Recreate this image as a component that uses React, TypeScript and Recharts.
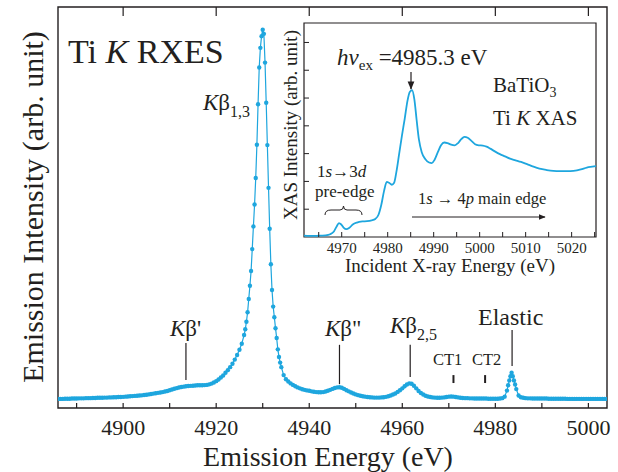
import React from 'react';
import { LineChart, Line, XAxis, YAxis, ReferenceArea, ReferenceLine } from 'recharts';

const BLUE = '#1ea6de';
const INK = '#231f20';
const FONT = '"Liberation Serif", "Times New Roman", serif';

// --- Ti K RXES emission spectrum (peak = 100) ---
// each block is sampled on its own energy grid (start, step)
const lowTail = [
  2.4, 2.4, 2.4, 2.45, 2.45, 2.45, 2.5, 2.5, 2.5, 2.55,
  2.55, 2.55, 2.6, 2.6, 2.6, 2.65, 2.65, 2.7, 2.7, 2.7,
  2.75, 2.75, 2.8, 2.8, 2.85, 2.85, 2.9, 2.9, 2.95, 3.0,
  3.05, 3.1, 3.15, 3.2, 3.25, 3.3, 3.35, 3.45, 3.5, 3.6,
  3.7, 3.8, 3.9, 4.0, 4.1, 4.2, 4.35, 4.5, 4.7, 4.9,
  5.1, 5.25, 5.4, 5.55, 5.65, 5.75, 5.8, 5.85, 5.9, 5.95,
  6.0, 6.0, 6.0, 6.05, 6.1, 6.25, 6.45, 6.75, 7.1, 7.55,
  8.05, 8.6, 9.3, 10.0, 10.8, 11.7, 12.8, 14.0, 15.4, 17.0,
];
const mainPeak = [
  19.3, 20.8, 22.8, 25.3, 28.8, 32.3, 36.2, 42.0, 48.0, 53.8,
  60.8, 69.6, 80.3, 90.0, 95.2, 98.3, 100.0, 98.9, 91.3, 80.7,
  69.5, 58.2, 47.4, 38.0, 31.2, 26.8, 24.0, 21.1, 18.5, 15.5,
  13.5, 12.0, 10.8,
];
const satellites = [
  8.7, 7.6, 7.0, 6.5, 6.1, 5.75, 5.45, 5.2, 4.95, 4.8,
  4.65, 4.55, 4.4, 4.3, 4.2, 4.15, 4.15, 4.2, 4.35, 4.55,
  4.8, 5.05, 5.3, 5.45, 5.5, 5.35, 5.05, 4.7, 4.4, 4.1,
  3.85, 3.6, 3.4, 3.25, 3.1, 3.0, 2.9, 2.85, 2.8, 2.75,
  2.75, 2.75, 2.8, 2.85, 2.95, 3.1, 3.3, 3.55, 3.85, 4.25,
  4.7, 5.2, 5.75, 6.2, 6.5, 6.4, 5.9, 5.2, 4.5, 3.95,
  3.55, 3.25, 3.05, 2.9, 2.8, 2.75, 2.7, 2.7, 2.75, 2.8,
  2.9, 3.0, 3.05, 3.0, 2.9, 2.8, 2.7, 2.65, 2.6, 2.6,
  2.55, 2.55, 2.5, 2.5, 2.5, 2.5, 2.5, 2.5, 2.45, 2.45,
  2.45, 2.45, 2.45, 2.5, 2.6, 3.0, 4.6,
];
const elastic = [6.0, 7.3, 8.4, 9.3, 8.4, 7.3, 6.2, 5.0];
const highTail = [
  3.3, 2.85, 2.7, 2.6, 2.55, 2.55, 2.5, 2.5, 2.5, 2.5,
  2.5, 2.5, 2.5, 2.45, 2.45, 2.45, 2.45, 2.45, 2.45, 2.45,
  2.45, 2.4, 2.4, 2.4, 2.4, 2.4, 2.4, 2.4, 2.4, 2.4,
  2.4, 2.4, 2.4, 2.4, 2.4, 2.4, 2.4, 2.4, 2.4,
];
const blocks = [
  { start: 4886, step: 0.5, values: lowTail },
  { start: 4926, step: 0.25, values: mainPeak },
  { start: 4934.5, step: 0.5, values: satellites },
  { start: 4982.75, step: 0.25, values: elastic },
  { start: 4985, step: 0.5, values: highTail },
];
const emission = blocks.flatMap((b) =>
  b.values.map((v, i) => ({ e: +(b.start + i * b.step).toFixed(2), v }))
);

const mainDomain = [4886, 5004];
const mainTicks = [4890, 4900, 4910, 4920, 4930, 4940, 4950, 4960, 4970, 4980, 4990, 5000];
const topTicks = [4900, 4920, 4940, 4960, 4980, 5000];

// label markers: energy, bottom, top
const markers = [
  { e: 4913.5, y1: 7.4, y2: 17.2 },
  { e: 4946.5, y1: 6.3, y2: 16.7 },
  { e: 4961.7, y1: 8.2, y2: 16.7 },
  { e: 4971.0, y1: 6.6, y2: 8.7 },
  { e: 4977.8, y1: 6.6, y2: 8.7 },
  { e: 4983.6, y1: 11.1, y2: 20.6 },
];

// --- inset: Ti K XAS of BaTiO3 ---
const xasEnergy = [
  4961.8, 4963.0, 4964.5, 4965.5, 4966.5, 4967.5, 4968.3, 4968.9, 4969.4, 4969.9,
  4970.4, 4971.0, 4971.6, 4972.4, 4973.3, 4974.5, 4975.5, 4976.5, 4977.3, 4978.0,
  4978.6, 4979.2, 4979.8, 4980.3, 4980.9, 4981.4, 4981.9, 4982.5, 4983.1, 4983.7,
  4984.3, 4984.8, 4985.3, 4985.8, 4986.3, 4986.8, 4987.4, 4988.2, 4989.0, 4989.6,
  4990.2, 4990.9, 4991.6, 4992.3, 4993.0, 4993.8, 4994.6, 4995.3, 4996.0, 4996.7,
  4997.4, 4998.2, 4999.0, 4999.8, 5000.7, 5001.5, 5002.3, 5003.3, 5004.4, 5005.5,
  5006.6, 5007.8, 5009.0, 5010.3, 5011.7, 5013.0, 5014.6, 5016.0, 5017.5, 5019.0,
  5020.4, 5022.0, 5023.3, 5024.5, 5025.3,
];
const xasIntensity = [
  0.05, 0.04, 0.04, 0.05, 0.06, 0.1, 0.2, 0.38, 0.5, 0.45,
  0.34, 0.28, 0.32, 0.45, 0.52, 0.56, 0.57, 0.6, 0.65, 0.8,
  1.15, 1.65, 1.98, 1.95, 1.88, 1.95, 2.35, 3.0, 3.65, 4.25,
  4.9, 5.22, 5.28, 4.95, 4.2, 3.5, 3.05, 2.8, 2.68, 2.66,
  2.78, 3.05, 3.3, 3.4, 3.38, 3.32, 3.3, 3.38, 3.52, 3.6,
  3.57, 3.46, 3.34, 3.3, 3.29, 3.25, 3.18, 3.08, 2.98, 2.9,
  2.82, 2.76, 2.7, 2.62, 2.53, 2.46, 2.41, 2.38, 2.37, 2.37,
  2.38, 2.43, 2.5, 2.53, 2.55,
];
const xas = xasEnergy.map((e, i) => ({ e, v: xasIntensity[i] }));
const insetDomain = [4961.8, 5025.3];
const insetXTicks = [4965, 4970, 4975, 4980, 4985, 4990, 4995, 5000, 5005, 5010, 5015, 5020, 5025];
const insetYTicks = [1, 2, 3, 4, 5, 6, 7];

const serif = { fontFamily: FONT };

const MainBottomTick = (p: any) => {
  const { x, y, payload } = p;
  const v = payload.value;
  return (
    <g>
      <line x1={x} x2={x} y1={y} y2={y - 5} stroke={INK} strokeWidth={1.2} />
      {v % 20 === 0 && (
        <text x={x} y={y + 27} textAnchor="middle" style={serif} fontSize={22} fill={INK}>
          {v}
        </text>
      )}
    </g>
  );
};

const MainTopTick = (p: any) => (
  <line x1={p.x} x2={p.x} y1={p.y} y2={p.y + 9} stroke={INK} strokeWidth={1.2} />
);

const InsetBottomTick = (p: any) => {
  const { x, y, payload } = p;
  const v = payload.value;
  return (
    <g>
      <line x1={x} x2={x} y1={y} y2={y - 5} stroke={INK} strokeWidth={1} />
      {v % 10 === 0 && (
        <text x={x} y={y + 16} textAnchor="middle" style={serif} fontSize={15} fill={INK}>
          {v}
        </text>
      )}
    </g>
  );
};

const InsetLeftTick = (p: any) => (
  <line x1={p.x} x2={p.x + 5} y1={p.y} y2={p.y} stroke={INK} strokeWidth={1} />
);

export default function App() {
  const txt = { style: serif, fill: INK };
  return (
    <div style={{ position: 'absolute', left: 0, top: 0, width: 618, height: 472, background: '#fff' }}>
      <div style={{ position: 'absolute', left: 0, top: 0 }}>
        <LineChart width={618} height={472} data={emission} margin={{ top: 0, right: 11, bottom: 0, left: 58 }}>
          <XAxis
            xAxisId="b"
            dataKey="e"
            type="number"
            domain={mainDomain}
            allowDataOverflow
            ticks={mainTicks}
            interval={0}
            height={64}
            axisLine={false}
            tickLine={false}
            tickSize={0}
            tickMargin={0}
            tick={MainBottomTick}
          />
          <XAxis
            xAxisId="t"
            orientation="top"
            dataKey="e"
            type="number"
            domain={mainDomain}
            allowDataOverflow
            ticks={topTicks}
            interval={0}
            height={7}
            axisLine={false}
            tickLine={false}
            tickSize={0}
            tickMargin={0}
            tick={MainTopTick}
          />
          <YAxis yAxisId="l" hide type="number" domain={[0, 106]} allowDataOverflow />
          <ReferenceArea
            xAxisId="b"
            yAxisId="l"
            x1={mainDomain[0]}
            x2={mainDomain[1]}
            y1={0}
            y2={106}
            fill="none"
            stroke={INK}
            strokeWidth={1.4}
          />
          {markers.map((m, i) => (
            <ReferenceLine
              key={i}
              xAxisId="b"
              yAxisId="l"
              segment={[{ x: m.e, y: m.y1 }, { x: m.e, y: m.y2 }]}
              stroke={INK}
              strokeWidth={i === 3 || i === 4 ? 2 : 1.2}
            />
          ))}
          <Line
            xAxisId="b"
            yAxisId="l"
            dataKey="v"
            type="linear"
            stroke={BLUE}
            strokeWidth={1.2}
            dot={{ r: 2.2, fill: BLUE, stroke: 'none' }}
            activeDot={false}
            isAnimationActive={false}
          />
        </LineChart>
      </div>

      <div style={{ position: 'absolute', left: 270, top: 15 }}>
        <LineChart width={336} height={270} data={xas} margin={{ top: 8, right: 10, bottom: 0, left: 0 }}>
          <XAxis
            dataKey="e"
            type="number"
            domain={insetDomain}
            allowDataOverflow
            ticks={insetXTicks}
            interval={0}
            height={48}
            axisLine={false}
            tickLine={false}
            tickSize={0}
            tickMargin={0}
            tick={InsetBottomTick}
          />
          <YAxis
            type="number"
            domain={[0, 7.7]}
            allowDataOverflow
            ticks={insetYTicks}
            interval={0}
            width={34}
            axisLine={false}
            tickLine={false}
            tickSize={0}
            tickMargin={0}
            tick={InsetLeftTick}
          />
          <ReferenceArea
            x1={insetDomain[0]}
            x2={insetDomain[1]}
            y1={0}
            y2={7.7}
            fill="none"
            stroke={INK}
            strokeWidth={1.2}
          />
          <Line
            dataKey="v"
            type="monotone"
            stroke={BLUE}
            strokeWidth={1.8}
            dot={false}
            activeDot={false}
            isAnimationActive={false}
          />
        </LineChart>
      </div>

      <svg width={618} height={472} style={{ position: 'absolute', left: 0, top: 0, pointerEvents: 'none' }}>
        <defs>
          <marker id="ah" viewBox="0 0 10 10" refX="9" refY="5" markerWidth="7" markerHeight="7" orient="auto">
            <path d="M0,1 L10,5 L0,9 z" fill={INK} />
          </marker>
        </defs>
        {/* main axis titles */}
        <text {...txt} x={328} y={466} fontSize={28} textAnchor="middle">Emission Energy (eV)</text>
        <text {...txt} x={43} y={207} fontSize={30} textAnchor="middle" transform="rotate(-90 43 207)">
          Emission Intensity (arb. unit)
        </text>
        <text {...txt} x={68} y={63} fontSize={34}>
          Ti <tspan fontStyle="italic">K</tspan> RXES
        </text>
        <text {...txt} x={203} y={110} fontSize={23}>
          <tspan fontStyle="italic">K</tspan>β<tspan fontSize={16} dy={7}>1,3</tspan>
        </text>
        <text {...txt} x={170} y={336} fontSize={23}>
          <tspan fontStyle="italic">K</tspan>β'
        </text>
        <text {...txt} x={325} y={336} fontSize={23}>
          <tspan fontStyle="italic">K</tspan>β"
        </text>
        <text {...txt} x={390} y={333} fontSize={23}>
          <tspan fontStyle="italic">K</tspan>β<tspan fontSize={16} dy={7}>2,5</tspan>
        </text>
        <text {...txt} x={433} y={365} fontSize={16.5}>CT1</text>
        <text {...txt} x={472} y={365} fontSize={16.5}>CT2</text>
        <text {...txt} x={478} y={325} fontSize={24}>Elastic</text>

        {/* inset annotations */}
        <text {...txt} x={450} y={272} fontSize={19} textAnchor="middle">Incident X-ray Energy (eV)</text>
        <text {...txt} x={297} y={125} fontSize={19} textAnchor="middle" transform="rotate(-90 297 125)">
          XAS Intensity (arb. unit)
        </text>
        <text {...txt} x={337} y={65} fontSize={23}>
          <tspan fontStyle="italic">hν</tspan>
          <tspan fontSize={15} dy={5}>ex</tspan>
          <tspan dy={-5}> =4985.3 eV</tspan>
        </text>
        <line x1={411} x2={411} y1={72} y2={89} stroke={INK} strokeWidth={1.2} markerEnd="url(#ah)" />
        <text {...txt} x={493} y={92} fontSize={21}>
          BaTiO<tspan fontSize={14} dy={5}>3</tspan>
        </text>
        <text {...txt} x={493} y={125} fontSize={21}>
          Ti <tspan fontStyle="italic">K</tspan> XAS
        </text>
        <text {...txt} x={317} y={177} fontSize={17}>
          1<tspan fontStyle="italic">s</tspan>→3<tspan fontStyle="italic">d</tspan>
        </text>
        <text {...txt} x={315} y={197} fontSize={17}>pre-edge</text>
        <path
          d="M325,215 Q325,210 331,210 L340,210 Q343.5,210 343.5,206 Q343.5,210 347,210 L356,210 Q362,210 362,215"
          fill="none"
          stroke={INK}
          strokeWidth={1}
        />
        <text {...txt} x={418} y={204} fontSize={16.5}>
          1<tspan fontStyle="italic">s</tspan> → 4<tspan fontStyle="italic">p</tspan> main edge
        </text>
        <line x1={412} x2={545} y1={217} y2={217} stroke={INK} strokeWidth={1} markerEnd="url(#ah)" />
      </svg>
    </div>
  );
}
